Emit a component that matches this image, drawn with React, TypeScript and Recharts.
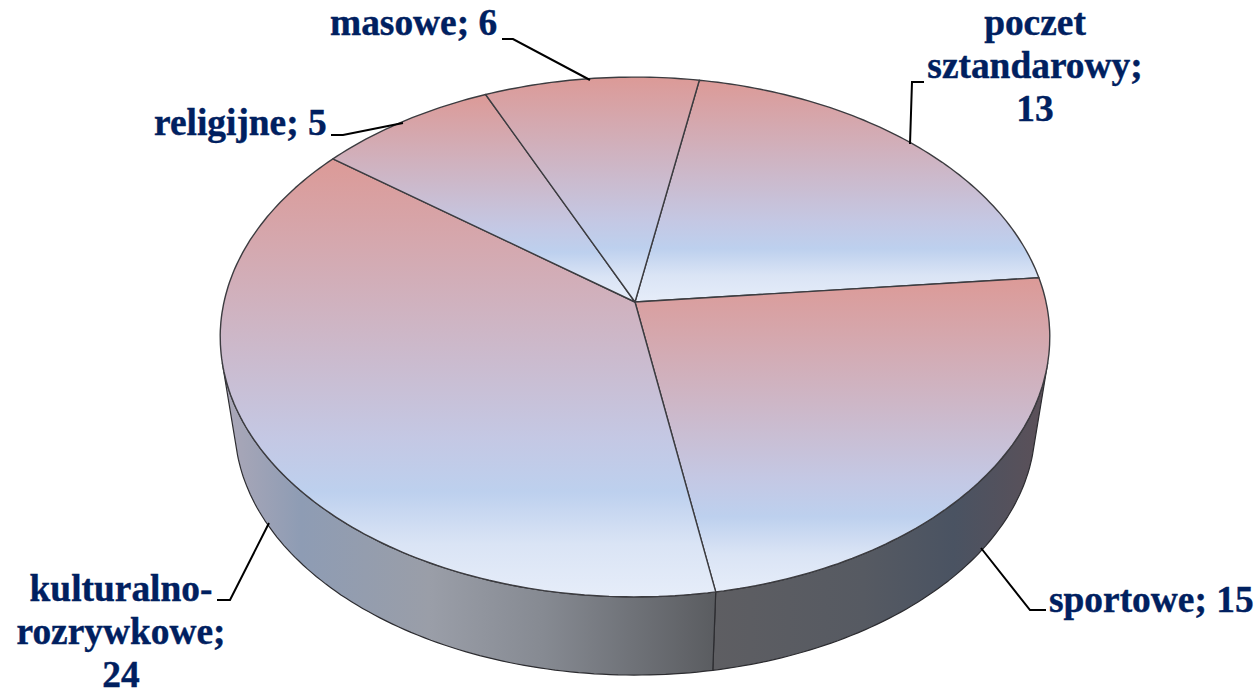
import { PieChart, Pie } from "recharts";

// clockwise from the top-right slice
const categories = ["poczet sztandarowy", "sportowe", "kulturalno-rozrywkowe", "religijne", "masowe"];
const values = [13, 15, 24, 5, 6];

const data = categories.map((name, i) => ({ name, value: values[i] }));

// wrapped label text, same order as categories
const labelLines = [
  ["poczet", "sztandarowy;", "13"],
  ["sportowe; 15"],
  ["kulturalno-", "rozrywkowe;", "24"],
  ["religijne; 5"],
  ["masowe; 6"],
];
const labelAnchor = ["middle", "start", "middle", "start", "start"];
const labelX = [1035, 1049, 121, 154, 330];
const labelY = [35, 612, 600.5, 135, 35];
const leaders = [
  "M924 82 L912 82 L910 144",
  "M1046 610 L1030 610 L981 548",
  "M217 600 L230 600 L269 523",
  "M331 135 L343 135 L403 123",
  "M502 39 L513 39 L590 80",
];

const CX = 635;
const CY = 302;
const RADIUS = 411;
const START = 79.8;
// perspective of the tilted disc
const PERSP = 0.1346;
const SQUASH = 0.6209;
// the part of the rim where the side wall shows
const WALL_FROM = -166.6;
const WALL_TO = -13.4;

function project(deg: number, cx: number, cy: number, r: number) {
  const a = (deg * Math.PI) / 180;
  const w = 1 + PERSP * Math.sin(a);
  return [cx + (r * Math.cos(a)) / w, cy - (SQUASH * r * Math.sin(a)) / w];
}

function lower(p: number[], cx: number, cy: number) {
  return [cx + 0.965 * (p[0] - cx), cy + 0.96 * (p[1] - cy) + 90];
}

function rim(from: number, to: number, cx: number, cy: number, r: number) {
  const n = Math.max(2, Math.ceil(Math.abs(to - from)));
  const pts = [];
  for (let i = 0; i <= n; i++) pts.push(project(from + ((to - from) * i) / n, cx, cy, r));
  return pts;
}

const toPath = (pts: number[][]) => pts.map((p) => `${p[0].toFixed(1)} ${p[1].toFixed(1)}`).join(" L");

function TopFace(props: any) {
  const { cx, cy, outerRadius, startAngle, endAngle } = props;
  const pts = rim(startAngle, endAngle, cx, cy, outerRadius);
  return <path d={`M${cx} ${cy} L${toPath(pts)} Z`} fill="url(#topFill)" stroke="#3c3c40" strokeWidth={1.4} strokeLinejoin="round" />;
}

function WallFace(props: any) {
  const { cx, cy, outerRadius, startAngle, endAngle, index } = props;
  const hi = Math.min(Math.max(startAngle, endAngle), WALL_TO);
  const lo = Math.max(Math.min(startAngle, endAngle), WALL_FROM);
  if (hi <= lo) return null;
  const upper = rim(hi, lo, cx, cy, outerRadius);
  const bottom = upper.map((p) => lower(p, cx, cy)).reverse();
  return (
    <path
      d={`M${toPath(upper)} L${toPath(bottom)} Z`}
      fill={index === 1 ? "url(#wallRight)" : "url(#wallLeft)"}
      stroke="#2c2c30"
      strokeWidth={1.2}
      strokeLinejoin="round"
    />
  );
}

function renderLabel(props: any) {
  const i = props.index;
  return (
    <text
      key={i}
      x={labelX[i]}
      y={labelY[i]}
      textAnchor={labelAnchor[i] as any}
      fontFamily="Liberation Serif"
      fontWeight="bold"
      fontSize={37.4}
      fill="#002060"
      stroke="#002060"
      strokeWidth={0.4}
    >
      {labelLines[i].map((line, j) => (
        <tspan key={j} x={labelX[i]} dy={j === 0 ? 0 : 43}>
          {line}
        </tspan>
      ))}
    </text>
  );
}

function renderLeader(props: any) {
  return <path key={props.index} d={leaders[props.index]} fill="none" stroke="#000" strokeWidth={2} />;
}

export default function App() {
  return (
    <div style={{ position: "absolute", left: 0, top: 0, width: 1260, height: 688, overflow: "hidden" }}>
      <PieChart width={1260} height={688} margin={{ top: 0, right: 0, bottom: 0, left: 0 }}>
        <defs>
          <linearGradient id="topFill" x1="0" y1="0" x2="0" y2="1">
            <stop offset="0" stopColor="#DC9A97" />
            <stop offset="0.64" stopColor="#C4C8E4" />
            <stop offset="0.76" stopColor="#BDD0EE" />
            <stop offset="0.88" stopColor="#DAE4F5" />
            <stop offset="1" stopColor="#E6EDF9" />
          </linearGradient>
          <linearGradient id="wallLeft" x1="0" y1="0" x2="1" y2="0">
            <stop offset="0" stopColor="#ACA8B8" />
            <stop offset="0.16" stopColor="#8E9CB4" />
            <stop offset="0.42" stopColor="#9A9EA8" />
            <stop offset="0.65" stopColor="#868A92" />
            <stop offset="1" stopColor="#5A5C60" />
          </linearGradient>
          <linearGradient id="wallRight" x1="0" y1="0" x2="1" y2="0">
            <stop offset="0" stopColor="#5E5E62" />
            <stop offset="0.45" stopColor="#565A62" />
            <stop offset="0.72" stopColor="#4A5362" />
            <stop offset="1" stopColor="#5C5058" />
          </linearGradient>
        </defs>
        <Pie
          data={data}
          dataKey="value"
          nameKey="name"
          cx={CX}
          cy={CY}
          outerRadius={RADIUS}
          startAngle={START}
          endAngle={START - 360}
          shape={WallFace}
          label={false}
          labelLine={false}
          isAnimationActive={false}
        />
        <Pie
          data={data}
          dataKey="value"
          nameKey="name"
          cx={CX}
          cy={CY}
          outerRadius={RADIUS}
          startAngle={START}
          endAngle={START - 360}
          shape={TopFace}
          label={renderLabel}
          labelLine={renderLeader}
          isAnimationActive={false}
        />
      </PieChart>
    </div>
  );
}
